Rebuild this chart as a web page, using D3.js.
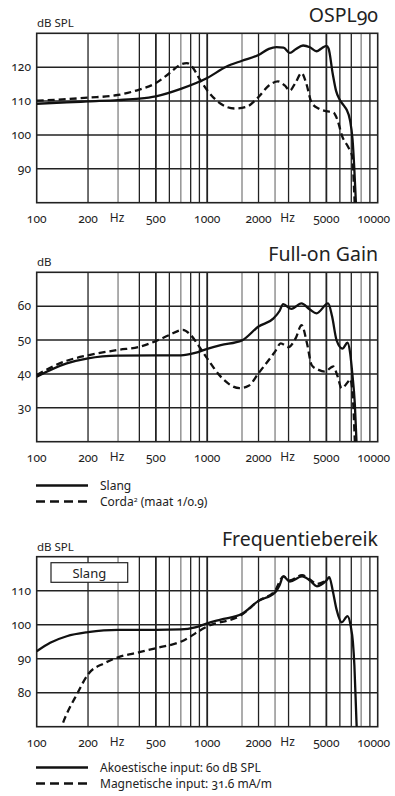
<!DOCTYPE html>
<html>
<head>
<meta charset="utf-8">
<script src="https://cdn.jsdelivr.net/npm/d3@7"></script>
<style>
  body { margin: 0; background: #fff; }
  svg text { font-family: "Noto Sans", sans-serif; font-feature-settings: "onum"; fill: #222; }
</style>
</head>
<body>
<div id="chart"></div>
<script>
// frequency axis
const freqTicks = [100, 200, 500, 1000, 2000, 5000, 10000];
const gridDark = [200, 400, 500, 600, 800, 900, 1000, 2000, 3000, 4000, 5000, 6000, 7000, 9000];
const gridGray = [300, 700, 1600, 2500, 8000];

// OSPL90 [Hz, dB SPL]
const osplSlang = [[100,109.2],[150,109.6],[200,109.9],[300,110.3],[400,110.7],[500,111.4],[700,113.6],[1000,116.8],[1300,120.2],[1600,121.9],[2000,123.6],[2300,125.4],[2550,125.9],[2800,125.8],[3050,124.2],[3300,125.3],[3650,126.4],[4000,125.9],[4380,124.7],[4700,125.6],[5000,126.3],[5150,125.5],[5450,118],[5700,113],[6000,110.3],[6300,108.8],[6565,107.5],[6870,104.5],[7120,98.6],[7280,90.7],[7450,80],[7600,72]];
const osplCorda = [[100,110.1],[200,111],[300,111.8],[400,113.4],[500,115.3],[600,118.2],[700,120.8],[760,121.2],[820,120],[900,116.6],[1000,113.2],[1200,109.2],[1450,107.8],[1700,108.3],[2000,111.2],[2300,114.6],[2600,115.8],[2850,114.6],[3050,113.1],[3300,115.5],[3580,118.3],[3800,115.4],[4100,109.5],[4500,107.8],[5000,107],[5500,106.6],[5800,104.5],[6200,99.5],[6700,96.5],[7100,93.5],[7250,85],[7400,75]];

// Full-on Gain [Hz, dB]
const gainSlang = [[100,39.2],[150,43.1],[200,44.6],[300,45.4],[500,45.5],[700,45.5],[850,46.2],[1000,47.4],[1200,48.5],[1600,49.9],[2000,54],[2450,56.4],[2650,58.5],[2790,60.6],[3120,59.2],[3570,60.8],[4000,59],[4380,57.9],[5120,60.8],[5400,57],[5735,50],[6220,47.5],[6650,49.2],[6900,46],[7100,40],[7345,31],[7510,20],[7600,15]];
const gainCorda = [[100,39.7],[150,43.9],[200,45.5],[300,47.1],[400,48],[500,49.7],[600,51.5],[720,53],[800,51.5],[900,48],[1000,44.6],[1200,39.2],[1550,35.8],[1750,36.5],[2000,40.2],[2500,46.6],[2700,49],[3000,47.9],[3300,50.5],[3580,54.4],[3850,49],[4100,42.6],[4500,41.2],[4900,40.7],[5480,42.2],[5800,39.5],[6140,35.8],[6700,37.7],[6900,38.5],[7120,34.3],[7345,20],[7450,12]];

// Frequentiebereik [Hz, dB SPL]
const freqAkoestisch = [[100,92.2],[120,94.7],[150,96.6],[200,97.8],[300,98.5],[500,98.5],[700,98.6],[850,99.2],[1000,100.4],[1200,101.5],[1600,103.2],[2000,107],[2500,109.5],[2650,111.5],[2800,114.2],[3050,112.7],[3600,114.2],[4000,113],[4400,111.3],[5000,113],[5200,114],[5450,110],[5735,104.5],[6150,100.7],[6650,102.5],[6950,99.5],[7150,95],[7300,88],[7500,72],[7600,65]];
const freqMagnetisch = [[130,65],[140,70],[174,80],[200,85.4],[250,88.7],[300,90.4],[400,91.9],[500,93.1],[700,95],[1000,99.5],[1600,103],[2000,107],[2500,110],[2800,114.2],[3050,113],[3600,114.6],[4000,113.3],[4400,112],[5000,113]];

const width = 395, height = 796;
const svg = d3.select("#chart").append("svg")
    .attr("width", width)
    .attr("height", height);

const x = d3.scaleLog().domain([100, 10000]).range([36.7, 377.7]);

function drawPanel(opt) {
    const y = d3.scaleLinear().domain(opt.domain).range([opt.bottom, opt.top]);
    const g = svg.append("g");

    // title and unit
    g.append("text").attr("x", 378).attr("y", opt.top - 11)
        .attr("text-anchor", "end").style("font-size", "19.5px").text(opt.title);
    g.append("text").attr("x", 37).attr("y", opt.top - 6)
        .style("font-size", "11.5px").text(opt.unit);

    // grid
    g.selectAll("line.vg").data(gridGray).enter().append("line")
        .attr("x1", d => x(d)).attr("x2", d => x(d))
        .attr("y1", opt.top).attr("y2", opt.bottom)
        .attr("stroke", "#999").attr("stroke-width", 1.6);
    g.selectAll("line.vd").data(gridDark).enter().append("line")
        .attr("x1", d => x(d)).attr("x2", d => x(d))
        .attr("y1", opt.top).attr("y2", opt.bottom)
        .attr("stroke", "#222").attr("stroke-width", d => d == 500 || d == 1000 || d == 5000 ? 1.8 : 1.3);
    g.selectAll("line.hg").data(opt.ticks).enter().append("line")
        .attr("x1", x.range()[0]).attr("x2", x.range()[1])
        .attr("y1", d => y(d)).attr("y2", d => y(d))
        .attr("stroke", "#222").attr("stroke-width", 1.6);
    g.append("rect")
        .attr("x", x.range()[0]).attr("y", opt.top)
        .attr("width", x.range()[1] - x.range()[0]).attr("height", opt.bottom - opt.top)
        .attr("fill", "none").attr("stroke", "#222").attr("stroke-width", 1.6);

    // y labels
    g.selectAll("text.yl").data(opt.ticks).enter().append("text")
        .attr("x", 31).attr("y", d => y(d) + 4)
        .attr("text-anchor", "end").style("font-size", "12px")
        .text(d => d);

    // x labels
    g.selectAll("text.xl").data(freqTicks).enter().append("text")
        .attr("x", d => x(d) - (d == 10000 ? 4 : 0)).attr("y", opt.bottom + 20)
        .attr("text-anchor", "middle").style("font-size", "12px")
        .text(d => d);
    g.selectAll("text.hz").data([300, 3000]).enter().append("text")
        .attr("x", d => x(d) - 1).attr("y", opt.bottom + 19)
        .attr("text-anchor", "middle").style("font-size", "12px")
        .text("Hz");

    // curves
    const clipId = "clip" + opt.top;
    svg.append("clipPath").attr("id", clipId).append("rect")
        .attr("x", x.range()[0]).attr("y", opt.top)
        .attr("width", x.range()[1] - x.range()[0]).attr("height", opt.bottom - opt.top);

    const line = d3.line().curve(d3.curveMonotoneX)
        .x(d => x(d[0])).y(d => y(d[1]));

    const cg = g.append("g").attr("clip-path", "url(#" + clipId + ")");
    cg.append("path").attr("d", line(opt.dashed))
        .attr("fill", "none").attr("stroke", "#111").attr("stroke-width", 2.3)
        .attr("stroke-dasharray", "7,4");
    cg.append("path").attr("d", line(opt.solid))
        .attr("fill", "none").attr("stroke", "#111").attr("stroke-width", 2.3);
}

drawPanel({ title: "OSPL90", unit: "dB SPL", top: 33.3, bottom: 202.7,
    domain: [80, 130], ticks: [90, 100, 110, 120], solid: osplSlang, dashed: osplCorda });
drawPanel({ title: "Full-on Gain", unit: "dB", top: 272.3, bottom: 441.7,
    domain: [20, 70], ticks: [30, 40, 50, 60], solid: gainSlang, dashed: gainCorda });
drawPanel({ title: "Frequentiebereik", unit: "dB SPL", top: 556.7, bottom: 726.7,
    domain: [70, 120], ticks: [80, 90, 100, 110], solid: freqAkoestisch, dashed: freqMagnetisch });

// Slang box in the last panel
svg.append("rect").attr("x", 51).attr("y", 562.7).attr("width", 76.7).attr("height", 19.6)
    .attr("fill", "#fff").attr("stroke", "#222").attr("stroke-width", 1.2);
svg.append("text").attr("x", 89.3).attr("y", 577.5).attr("text-anchor", "middle")
    .style("font-size", "13px").text("Slang");

// legends
function legend(items, y0) {
    items.forEach((it, i) => {
        const yy = y0 + i * 16;
        svg.append("line").attr("x1", 36).attr("x2", 88).attr("y1", yy).attr("y2", yy)
            .attr("stroke", "#111").attr("stroke-width", 2.3)
            .attr("stroke-dasharray", it.dash ? "9,5" : null);
        const t = svg.append("text").attr("x", 100).attr("y", yy + 4)
            .style("font-size", "12px");
        if (it.sup) {
            t.append("tspan").text(it.label);
            t.append("tspan").attr("dy", -4).style("font-size", "7px").text(it.sup);
            t.append("tspan").attr("dy", 4).text(" " + it.rest);
        } else {
            t.text(it.label);
        }
    });
}
legend([{ label: "Slang", dash: false }, { label: "Corda", sup: "2", rest: "(maat 1/0.9)", dash: true }], 485.5);
legend([{ label: "Akoestische input: 60 dB SPL", dash: false }, { label: "Magnetische input: 31.6 mA/m", dash: true }], 767.5);
</script>
</body>
</html>
